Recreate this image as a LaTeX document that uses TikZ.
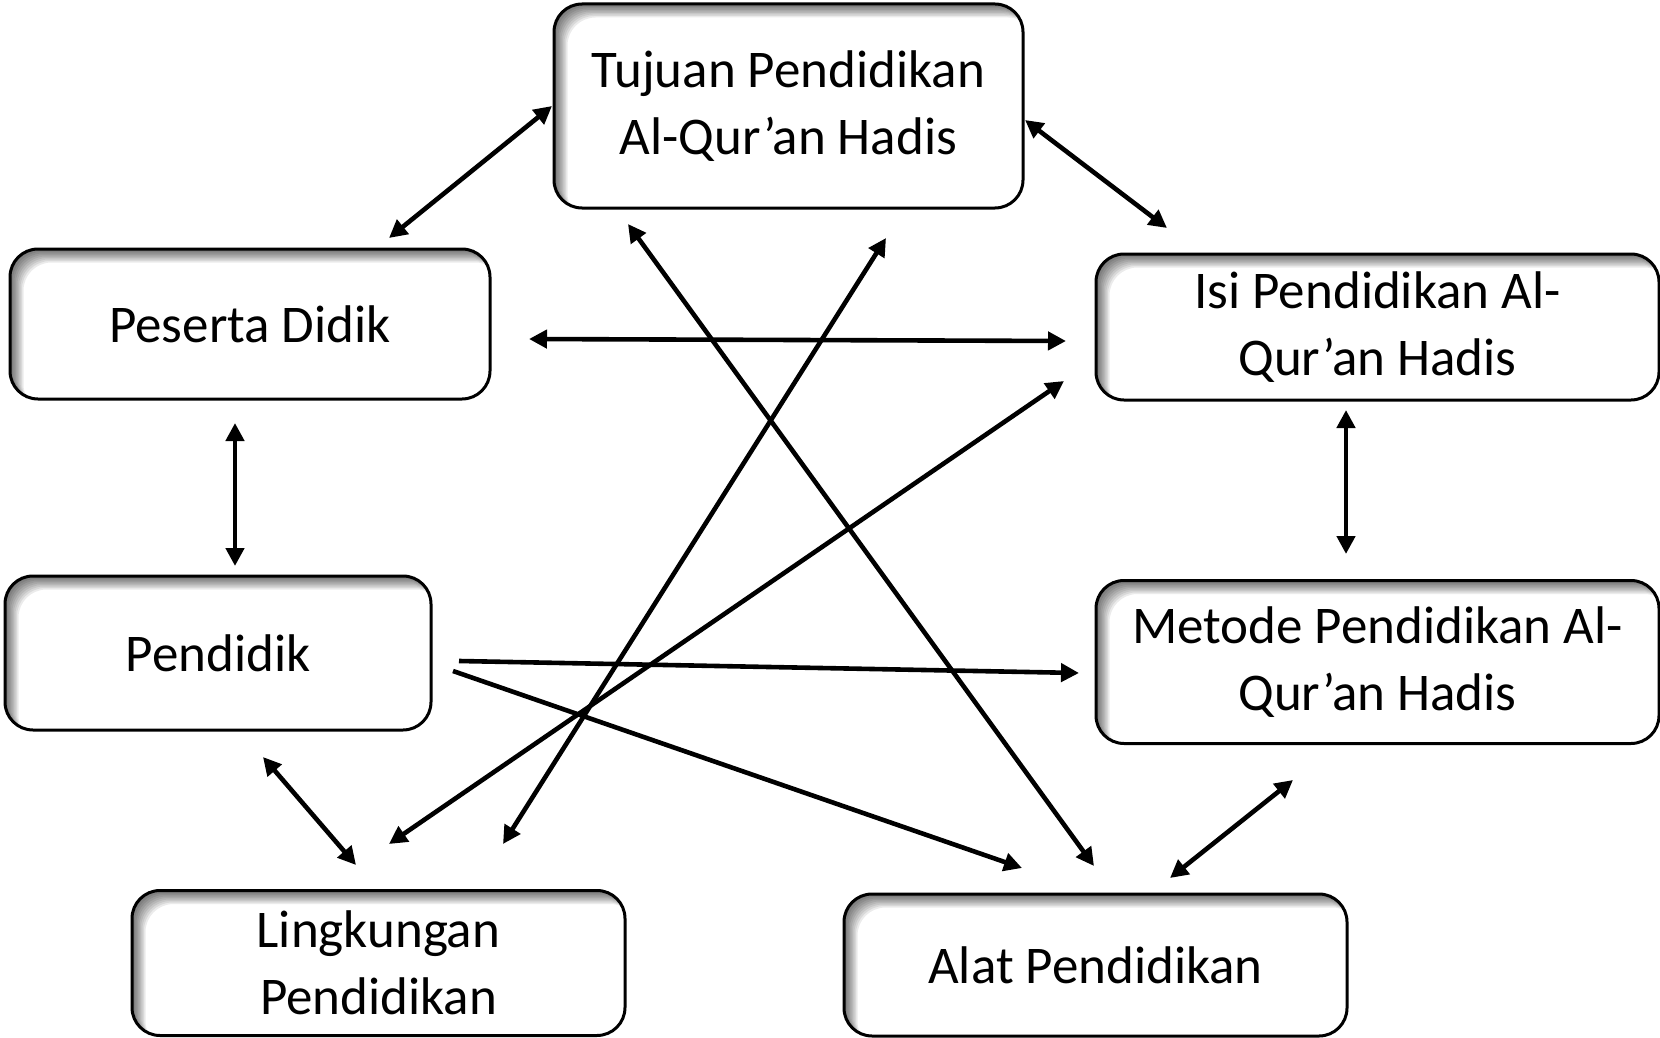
\documentclass[tikz,border=0pt]{standalone}
\usepackage{fontspec}
\setmainfont{Carlito}
\usetikzlibrary{arrows.meta,calc}
\begin{document}
\begin{tikzpicture}[x=1pt,y=-1pt,
  box/.style={draw, line width=3pt, rounded corners=28pt, fill=white, align=center,
    inner sep=0pt, font=\fontsize{53}{67}\selectfont,
    path picture={
      \foreach \d in {1.5,3,4.5,6,7.5,9,10.5,12,13.5}{
        \fill[black,opacity=0.08,even odd rule,sharp corners]
          ($(path picture bounding box.south west)+(-30,30)$) rectangle
          ($(path picture bounding box.north east)+(30,-30)$)
          [rounded corners=28pt]
          ($(path picture bounding box.south west)+(\d,\d)$) rectangle
          ($(path picture bounding box.north east)+(\d,\d)$);
      }}},
  tip/.style={Triangle[length=18pt,width=18pt]},
  link/.style={line width=4.6pt, {Triangle[length=18pt,width=18pt]}-{Triangle[length=18pt,width=18pt]}},
  onelink/.style={line width=4.6pt, -{Triangle[length=18pt,width=18pt]}}
]
\useasboundingbox (0,0) rectangle (1660,1038);

\node[box, minimum width=469pt, minimum height=204pt] (tuj) at (788.5,106) {Tujuan Pendidikan\\Al-Qur’an Hadis};
\node[box, minimum width=480pt, minimum height=150pt] (pes) at (250,324) {Peserta Didik};
\node[box, minimum width=563pt, minimum height=146pt] (isi) at (1377.5,327) {Isi Pendidikan Al-\\Qur’an Hadis};
\node[box, minimum width=426pt, minimum height=154pt] (pen) at (218,653) {Pendidik};
\node[box, minimum width=563pt, minimum height=163pt] (met) at (1377.5,662) {Metode Pendidikan Al-\\Qur’an Hadis};
\node[box, minimum width=493pt, minimum height=145pt] (lin) at (378.5,963) {Lingkungan\\Pendidikan};
\node[box, minimum width=503pt, minimum height=142pt] (ala) at (1095.5,965) {Alat Pendidikan};

% connector end points
\coordinate (tujA) at (552,106);   \coordinate (pesA) at (389,238);
\coordinate (tujB) at (1025,120);  \coordinate (isiA) at (1167,228);
\coordinate (pesB) at (529,339);   \coordinate (isiB) at (1066,341);
\coordinate (pesC) at (235,423);   \coordinate (penA) at (235,566);
\coordinate (isiC) at (1346,410);  \coordinate (metA) at (1346,554);
\coordinate (tujC) at (886,238);   \coordinate (linA) at (503,844);
\coordinate (tujD) at (628,224);   \coordinate (alaA) at (1094,866);
\coordinate (isiD) at (1064,381);  \coordinate (linB) at (389,844);
\coordinate (penB) at (459,661);   \coordinate (metB) at (1079,673);
\coordinate (penC) at (453,671);   \coordinate (alaB) at (1022,868);
\coordinate (penD) at (263,757);   \coordinate (linC) at (356,865);
\coordinate (metC) at (1293,780);  \coordinate (alaC) at (1170,878);

\draw[link] (tujA) -- (pesA);
\draw[link] (tujB) -- (isiA);
\draw[link] (pesB) -- (isiB);
\draw[link] (pesC) -- (penA);
\draw[link] (isiC) -- (metA);
\draw[link] (tujC) -- (linA);
\draw[link] (tujD) -- (alaA);
\draw[link] (isiD) -- (linB);
\draw[onelink] (penB) -- (metB);
\draw[onelink] (penC) -- (alaB);
\draw[link] (penD) -- (linC);
\draw[link] (metC) -- (alaC);
\end{tikzpicture}
\end{document}
